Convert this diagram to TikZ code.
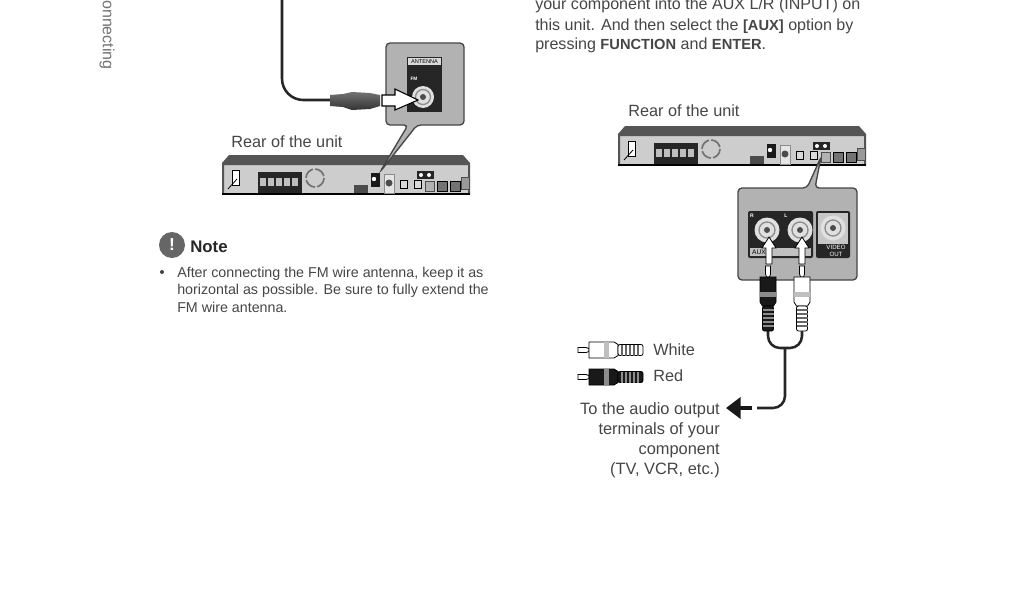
\documentclass[tikz,border=0pt]{standalone}
\usepackage{fontspec}
\setmainfont{Liberation Sans}
\usepackage{xcolor}
\usetikzlibrary{arrows.meta, calc}
\definecolor{textgray}{RGB}{70,70,70}
\definecolor{panelgray}{RGB}{178,178,178}
\definecolor{edgegray}{RGB}{70,70,70}
\definecolor{unitbody}{RGB}{205,205,205}
\definecolor{unittop}{RGB}{85,85,85}
\newcommand{\keyword}[1]{{\fontsize{11}{15}\selectfont\bfseries #1}}
\tikzset{
    bodytext/.style={font=\fontsize{12.05}{15}\selectfont, text=textgray, inner sep=0pt, align=left},
    notetext/.style={font=\fontsize{10.7}{13.2}\selectfont, text=textgray, inner sep=0pt, align=left},
    calloutbox/.style={draw=edgegray, fill=panelgray, line width=1pt, rounded corners=3pt},
    jackpanel/.style={fill=black!85, draw=none},
    whitearrow/.style={draw=black, fill=white, line width=.6pt, line join=miter},
    cablewire/.style={draw=black!85, line width=1.9pt, rounded corners=9pt},
    tinylabel/.style={font=\fontsize{3.6}{4}\selectfont, inner sep=0pt},
    pics/rearunit/.style={code={
        \fill[unitbody] (0,10) rectangle (248,39);
        \fill[unittop] (0,39) -- (0,8) -- (7,0) -- (241,0) -- (248,8) -- (248,39) -- (246,39) -- (246,10) -- (2,10) -- (2,39) -- cycle;
        \draw[black, line width=.8pt] (0,39) -- (248,39);
        \draw[black, fill=white, line width=.6pt] (10,15) rectangle (17,30);
        \draw[black, line width=.6pt] (6,34) -- (15,24);
        \fill[black!85] (36,17) rectangle (80,38);
        \foreach \tx in {41,49,57,65,73}
            \fill[white!75!black] (\tx-3,23) rectangle (\tx+3,31);
        \draw[black!55, line width=1.3pt, dash pattern=on 9pt off 1.6pt] (93,23) circle (9);
        \fill[black!90] (149,18) rectangle (158,32);
        \fill[white] (152,24) circle (2.2);
        \draw[black!45, fill=white!90!black] (162,19) rectangle (172,38);
        \fill[black!70] (167,28) circle (3.5);
        \fill[black!70] (132,30) rectangle (146,38);
        \foreach \tx in {178,192} {
            \draw[black, fill=white!85!black, line width=.6pt] (\tx,25) rectangle (\tx+7,33);
        }
        \draw[black!70, fill=white!70!black] (203,26) rectangle (212,36);
        \fill[black!85] (195,16) rectangle (212,24);
        \fill[white] (199,20) circle (2) (207,20) circle (2);
        \draw[black, fill=black!55, line width=.6pt] (215,26) rectangle (225,36);
        \draw[black, fill=black!55, line width=.6pt] (228,26) rectangle (238,36);
        \draw[black!70, fill=white!60!black] (239,22) rectangle (247,34);
    }},
    pics/rcaplug/.style n args={3}{code={
        \draw[black, fill=white, line width=.6pt] (-2.5,-11) -- (-2.5,-3) -- (-1.5,0) -- (1.5,0) -- (2.5,-3) -- (2.5,-11) -- cycle;
        \draw[black, fill=#1, line width=.6pt] (-8,0) -- (8,0) -- (8,25) -- (5.5,29) -- (-5.5,29) -- (-8,25) -- cycle;
        \fill[#2] (-8,15) rectangle (8,20);
        \draw[black, fill=#1, line width=.6pt, rounded corners=1.5pt] (-5.5,29) rectangle (5.5,54);
        \foreach \ry in {33,37,41,45,49}
            \draw[#3, line width=.9pt] (-5.5,\ry) -- (5.5,\ry);
    }}
}
\begin{document}
\begin{tikzpicture}[x=0.75pt, y=-0.75pt]
    \clip (0,0) rectangle (1024,600);
    \fill[white] (0,0) rectangle (1024,600);

    \node[rotate=-90, anchor=west, font=\fontsize{12}{13}\selectfont, text=black!55, inner sep=0pt] (sidetab) at (107,0) {onnecting};

    \node[bodytext, anchor=west] (introtext) at (535,5) {your component into the AUX L/R (INPUT) on};
    \node[bodytext, anchor=west] (introtwo) at (535,26) {this unit. And then select the \keyword{[AUX]} option by};
    \node[bodytext, anchor=west] (introthree) at (535,45.5) {pressing \keyword{FUNCTION} and \keyword{ENTER}.};

    \pic at (222,155) {rearunit};
    \pic at (618,126) {rearunit};
    \node[bodytext, font=\fontsize{12.2}{15}\selectfont, anchor=west] (rearleft) at (231,142) {Rear of the unit};
    \node[bodytext, font=\fontsize{12.2}{15}\selectfont, anchor=west] (rearright) at (628,111) {Rear of the unit};

    \coordinate (fmstart) at (282,0);
    \coordinate (fmbend) at (282,100);
    \coordinate (fmplug) at (331,100);
    \draw[cablewire, rounded corners=16pt] (fmstart) -- (fmbend) -- (fmplug);
    \draw[calloutbox] (386,43) -- (464,43) -- (464,125) -- (417,125) -- (380,172) -- (408,125) -- (386,125) -- cycle;
    \fill[jackpanel] (407,57) rectangle (442,112);
    \fill[white!85!black] (408,58) rectangle (441,65);
    \node[tinylabel, font=\fontsize{4.2}{5}\selectfont, text=black] (antennalabel) at (424.5,61.5) {ANTENNA};
    \node[tinylabel, font=\bfseries\fontsize{3.6}{4}\selectfont, text=white] (fmlabel) at (414,79) {FM};
    \fill[white!88!black] (423,97) circle (11);
    \draw[black!45, line width=1pt] (423,97) circle (7.5);
    \fill[black!70] (423,97) circle (3);
    \shade[top color=black!55, bottom color=black!80] (330,95) -- (343,94) -- (352,92) -- (370,93) -- (380,95) -- (380,106) -- (370,109) -- (352,110) -- (343,107) -- (330,106) -- cycle;
    \draw[whitearrow, line width=.8pt] (382,95) -- (395,95) -- (395,89) -- (418,100) -- (395,110) -- (395,106) -- (382,106) -- cycle;

    \node[draw=none, fill=black!60, circle, minimum size=19.5pt, inner sep=0pt, text=white, font=\bfseries\fontsize{13}{14}\selectfont] (noteicon) at (172,245) {!};
    \node[anchor=west, inner sep=0pt, text=black!85, font=\bfseries\fontsize{12.6}{14}\selectfont] (notehead) at (190,247) {Note};
    \fill[black!75] (162,272) circle (2);
    \node[notetext, anchor=north west] (notebody) at (177,266.5) {After connecting the FM wire antenna, keep it as\\horizontal as possible. Be sure to fully extend the\\FM wire antenna.};

    \draw[calloutbox] (738,188) -- (807,188) -- (821,157) -- (815,188) -- (857,188) -- (857,280) -- (738,280) -- cycle;
    \fill[jackpanel, rounded corners=1.5pt] (748,211) rectangle (813,258);
    \fill[panelgray!80!white] (750,248) rectangle (811,256);
    \node[tinylabel, font=\fontsize{5}{6}\selectfont, text=black] (auxlabel) at (759,252) {AUX};
    \node[tinylabel, text=white, font=\bfseries\fontsize{3.8}{4}\selectfont] (rlabel) at (752,216) {R};
    \node[tinylabel, text=white, font=\bfseries\fontsize{3.8}{4}\selectfont] (llabel) at (786,216) {L};
    \fill[jackpanel, rounded corners=1.5pt] (816,211) rectangle (850,258);
    \fill[white!78!black] (818,213) rectangle (848,244);
    \node[tinylabel, font=\fontsize{4.6}{5}\selectfont, text=white, align=center] (videolabel) at (836,251) {VIDEO\\OUT};
    \foreach \jx/\jy in {767/230, 800/230, 833/228} {
        \fill[white!88!black] (\jx,\jy) circle (12.5);
        \draw[black!45, line width=1pt] (\jx,\jy) circle (8);
        \fill[black!70] (\jx,\jy) circle (3);
    }
    \foreach \ax in {769,802}
        \draw[whitearrow] (\ax,237) -- (\ax+7,248) -- (\ax+3,248) -- (\ax+3,264) -- (\ax-3,264) -- (\ax-3,248) -- (\ax-7,248) -- cycle;

    \coordinate (redend) at (768,330);
    \coordinate (whiteend) at (802,330);
    \coordinate (cableleft) at (768,348);
    \coordinate (cableright) at (802,348);
    \coordinate (cablejoin) at (785,348);
    \coordinate (cablecorner) at (785,408);
    \coordinate (cablestop) at (757,408);
    \draw[cablewire] (redend) -- (cableleft) -- (cableright) -- (whiteend);
    \draw[cablewire] (cablejoin) -- (cablecorner) -- (cablestop);
    \pic at (768,277) {rcaplug={black!90}{black!45}{black!45}};
    \pic at (802,277) {rcaplug={white}{black!25}{black!60}};
    \pic[rotate=90] at (589,350) {rcaplug={white}{black!25}{black!60}};
    \pic[rotate=90] at (589,377) {rcaplug={black!90}{black!45}{black!45}};

    \node[bodytext, font=\fontsize{12.2}{15}\selectfont, anchor=west] (whitelabel) at (653,350) {White};
    \node[bodytext, font=\fontsize{12.2}{15}\selectfont, anchor=west] (redlabel) at (653,376) {Red};

    \coordinate (arrowtail) at (752,408);
    \coordinate (arrowtip) at (726,408);
    \draw[line width=2.4pt, black!90, -{Triangle[length=11pt, width=16pt]}] (arrowtail) -- (arrowtip);
    \node[bodytext, font=\fontsize{12.3}{15}\selectfont, align=right, anchor=north east] (outputtext) at (720,402) {To the audio output\\terminals of your\\component\\(TV, VCR, etc.)};
\end{tikzpicture}
\end{document}
